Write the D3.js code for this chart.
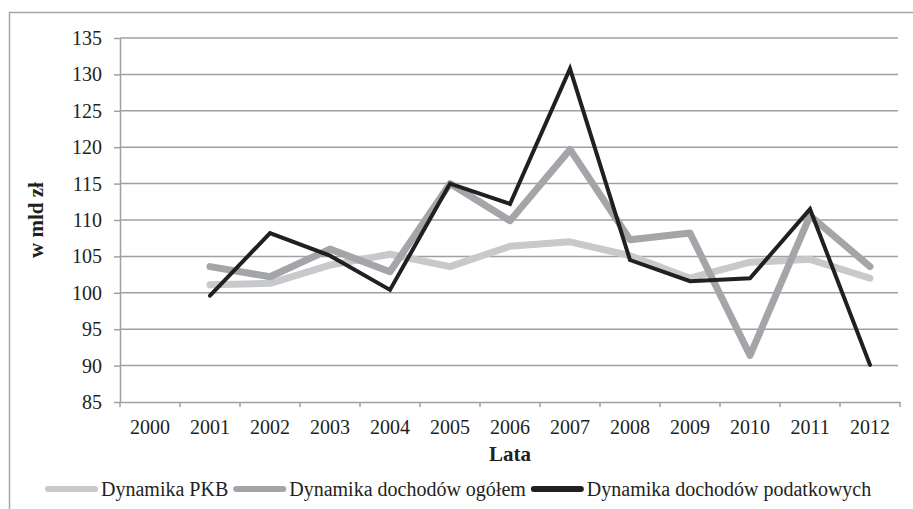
<!DOCTYPE html>
<html>
<head>
<meta charset="utf-8">
<script src="https://cdn.jsdelivr.net/npm/d3@7"></script>
<style>
  body { margin: 0; background: #fff; }
  svg { display: block; font-family: "Liberation Serif", "DejaVu Serif", serif; }
</style>
</head>
<body>
<svg id="chart" width="913" height="509"></svg>
<script>
// dane
const years = ["2000", "2001", "2002", "2003", "2004", "2005", "2006",
  "2007", "2008", "2009", "2010", "2011", "2012"];
const pkb = [null, 101.1, 101.3, 103.8, 105.3, 103.6, 106.4, 107.0, 105.1, 102.0, 104.2, 104.6, 102.0];
const ogolem = [null, 103.6, 102.2, 106.0, 102.9, 115.0, 109.9, 119.7, 107.3, 108.2, 91.4, 110.6, 103.6];
const podatkowe = [null, 99.6, 108.2, 105.1, 100.4, 115.0, 112.2, 130.8, 104.5, 101.6, 102.0, 111.5, 90.1];
const yTicks = [85, 90, 95, 100, 105, 110, 115, 120, 125, 130, 135];

const seriesNames = ["Dynamika PKB", "Dynamika dochodów ogółem", "Dynamika dochodów podatkowych"];
const seriesColors = ["#c8c9cb", "#a4a5a8", "#231f20"];
const seriesWidths = [7, 7, 4];

const fontFamily = "'Liberation Serif', 'DejaVu Serif', serif";

const svg = d3.select("#chart");
const margin = {top: 38, right: 13, bottom: 107, left: 120};
const width = 913, height = 509;

// ramka
svg.append("rect")
  .attr("x", 9.5).attr("y", 12.5)
  .attr("width", 1000).attr("height", 1000)
  .attr("fill", "none")
  .attr("stroke", "#a6a6a6")
  .attr("stroke-width", 1.5);

// skale
const x = d3.scaleBand()
  .domain(years)
  .range([margin.left, width - margin.right])
  .padding(0);

const y = d3.scaleLinear()
  .domain([85, 135])
  .range([height - margin.bottom, margin.top]);

// oś y
const yAxis = svg.append("g")
  .attr("class", "y-axis")
  .attr("transform", `translate(${margin.left},0)`)
  .call(d3.axisLeft(y).tickValues(yTicks).tickSizeOuter(0).tickSizeInner(6).tickPadding(12));
yAxis.attr("font-family", fontFamily).attr("font-size", 20);
yAxis.select(".domain").attr("stroke", "#a0a0a0").attr("stroke-width", 1.5);
yAxis.selectAll(".tick line").attr("stroke", "#a0a0a0").attr("stroke-width", 1.5);
yAxis.selectAll(".tick text").attr("fill", "#231f20");

// linie siatki
svg.append("g")
  .attr("class", "grid")
  .selectAll("line")
  .data(yTicks.filter(d => d !== 85))
  .join("line")
  .attr("x1", margin.left)
  .attr("x2", width - margin.right - 2)
  .attr("y1", d => y(d))
  .attr("y2", d => y(d))
  .attr("stroke", "#a0a0a0")
  .attr("stroke-width", 1.5);

// oś x
const xAxis = svg.append("g")
  .attr("class", "x-axis")
  .attr("transform", `translate(0,${height - margin.bottom})`)
  .call(d3.axisBottom(x).tickSize(0).tickPadding(18));
xAxis.attr("font-family", fontFamily).attr("font-size", 20);
xAxis.select(".domain").attr("stroke", "#a0a0a0").attr("stroke-width", 1.5);
xAxis.selectAll(".tick text").attr("fill", "#231f20");

// znaczniki między kategoriami
xAxis.selectAll("line.band-tick")
  .data(years.concat(["end"]))
  .join("line")
  .attr("class", "band-tick")
  .attr("x1", (d, i) => margin.left + i * x.bandwidth())
  .attr("x2", (d, i) => margin.left + i * x.bandwidth())
  .attr("y1", 0)
  .attr("y2", 5)
  .attr("stroke", "#a0a0a0")
  .attr("stroke-width", 1.5);

// tytuły osi
svg.append("text")
  .attr("transform", `translate(43,${(y(85) + y(135)) / 2}) rotate(-90)`)
  .attr("text-anchor", "middle")
  .attr("font-size", 21)
  .attr("font-weight", "bold")
  .attr("fill", "#231f20")
  .text("w mld zł");

svg.append("text")
  .attr("x", (margin.left + width - margin.right) / 2)
  .attr("y", 461)
  .attr("text-anchor", "middle")
  .attr("font-size", 21)
  .attr("font-weight", "bold")
  .attr("fill", "#231f20")
  .text("Lata");

// linie danych
const allSeries = [pkb, ogolem, podatkowe];
const line = d3.line()
  .defined(d => d.v !== null)
  .x(d => x(d.year) + x.bandwidth() / 2)
  .y(d => y(d.v));

allSeries.forEach((vals, k) => {
  svg.append("path")
    .datum(years.map((yr, i) => ({year: yr, v: vals[i]})))
    .attr("d", line)
    .attr("fill", "none")
    .attr("stroke", seriesColors[k])
    .attr("stroke-width", seriesWidths[k])
    .attr("stroke-linejoin", k === 2 ? "miter" : "round")
    .attr("stroke-linecap", "round");
});

// legenda
const legend = svg.append("g").attr("class", "legend");
let lx = 45;
const ly = 489;
seriesNames.forEach((name, k) => {
  legend.append("line")
    .attr("x1", lx + 3).attr("x2", lx + 50)
    .attr("y1", ly).attr("y2", ly)
    .attr("stroke", seriesColors[k])
    .attr("stroke-width", 6)
    .attr("stroke-linecap", "round");
  const t = legend.append("text")
    .attr("x", lx + 56)
    .attr("y", ly + 7)
    .attr("font-size", 20)
    .attr("fill", "#231f20")
    .text(name);
  lx += 56 + t.node().getComputedTextLength() + 5;
});
</script>
</body>
</html>
